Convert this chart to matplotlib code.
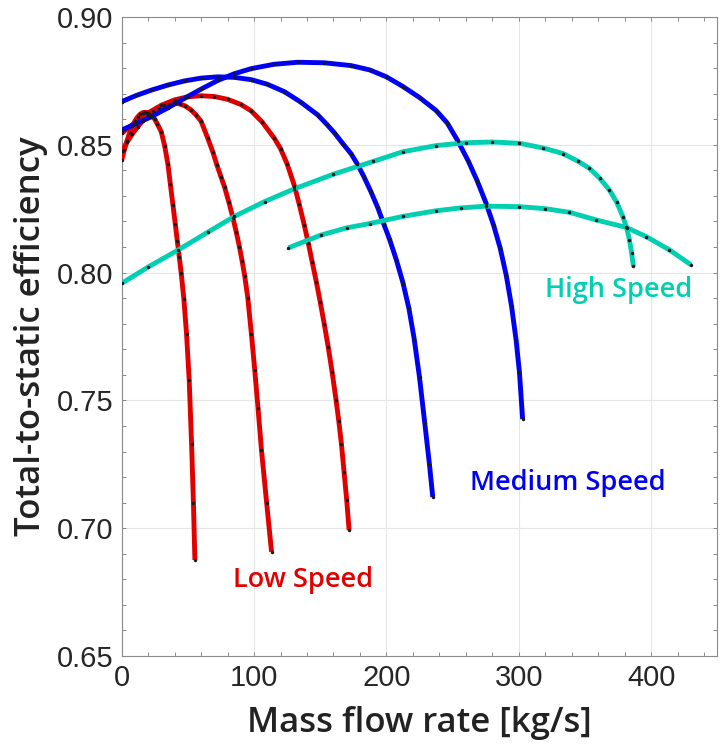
import numpy as np
import matplotlib
matplotlib.use("Agg")
import matplotlib.pyplot as plt
from matplotlib.ticker import MultipleLocator, FormatStrFormatter

# low speed (red) lines
low1_x = [0, 2, 4, 6, 8, 10, 12, 14, 16, 17.4, 19, 21, 23, 25, 27, 29.9, 32.5, 34.9, 36.8, 38.7, 40.5, 42,
          43.5, 45, 47, 49, 51, 52.8, 54.2, 55.3]
low1_y = [0.844, 0.848, 0.8516, 0.8546, 0.8572, 0.8593, 0.8609, 0.862, 0.8626, 0.8627, 0.8626, 0.8621,
          0.8612, 0.86, 0.8581, 0.8551, 0.8495, 0.8425, 0.8345, 0.8265, 0.819, 0.8125, 0.8062, 0.7997,
          0.7895, 0.776, 0.758, 0.733, 0.71, 0.6876]
low2_x = [0, 4, 8, 12, 16, 20, 24, 28, 32, 36, 40, 44, 48, 52, 56, 60, 65.1, 69, 72, 75, 77.7, 81, 84, 86.5,
          89, 91, 93, 95.3, 98, 100.5, 103, 105.6, 109.5, 113.2]
low2_y = [0.8475, 0.851, 0.8542, 0.857, 0.8595, 0.8615, 0.8632, 0.8645, 0.8655, 0.8661, 0.8662, 0.866,
          0.8652, 0.8638, 0.8618, 0.8592, 0.8525, 0.847, 0.842, 0.8375, 0.8335, 0.8275, 0.8215, 0.816, 0.81,
          0.8045, 0.7985, 0.79, 0.776, 0.762, 0.747, 0.7306, 0.71, 0.6908]
low3_x = [0, 10, 20, 30, 40, 50, 60, 70, 80, 90, 97.8, 106, 115.4, 120, 125, 130.5, 134, 138, 141, 144, 147,
          150, 153, 156, 159, 162, 164, 166, 168, 170, 171.8]
low3_y = [0.8545, 0.8587, 0.8625, 0.8655, 0.8676, 0.8688, 0.8692, 0.8689, 0.8678, 0.8658, 0.8633, 0.859,
          0.8525, 0.8485, 0.8425, 0.834, 0.827, 0.8185, 0.8115, 0.804, 0.7965, 0.7885, 0.78, 0.771, 0.761,
          0.75, 0.742, 0.733, 0.722, 0.711, 0.6993]

# medium speed (blue) lines
med1_x = [0, 11, 22.4, 35, 47.5, 60, 72.7, 85, 97.8, 110, 122.9, 135, 148.1, 155, 161, 167, 173.3, 178, 183,
          188, 193.4, 198, 202.4, 207.5, 212.5, 217, 221, 225, 229, 232.5, 235]
med1_y = [0.8669, 0.8693, 0.8714, 0.8734, 0.875, 0.8761, 0.8766, 0.8764, 0.8755, 0.8737, 0.8708, 0.8668,
          0.8617, 0.858, 0.8545, 0.8505, 0.8465, 0.8425, 0.8375, 0.832, 0.8255, 0.819, 0.813, 0.805, 0.796,
          0.786, 0.774, 0.759, 0.741, 0.725, 0.7122]
med2_x = [0, 11, 22.4, 35, 47.5, 60, 72.7, 85, 97.8, 115, 133, 153, 173.3, 187.4, 200, 212.5, 225, 237.6, 246,
          254, 262, 268.5, 275.4, 281, 286, 290.5, 294.5, 298, 300.5, 302.9]
med2_y = [0.8558, 0.8583, 0.861, 0.8645, 0.8682, 0.8718, 0.8752, 0.8778, 0.8798, 0.8815, 0.8823, 0.8821,
          0.881, 0.8793, 0.8766, 0.8728, 0.8685, 0.8634, 0.8585, 0.8515, 0.8435, 0.836, 0.827, 0.8185,
          0.8095, 0.799, 0.787, 0.7735, 0.761, 0.7427]

# high speed (teal) lines
high1_x = [0, 20, 42.5, 65, 85.2, 108, 130.5, 160, 190, 212.5, 237.6, 260, 280, 300.5, 318, 333.3, 345,
           353.4, 361, 368.5, 374, 378.6, 381.5, 383.6, 385.3, 386.6]
high1_y = [0.7958, 0.8022, 0.8088, 0.8158, 0.822, 0.8278, 0.8328, 0.8385, 0.8435, 0.8473, 0.8497, 0.8508,
           0.8511, 0.8506, 0.8488, 0.8466, 0.8435, 0.8408, 0.837, 0.8323, 0.8275, 0.8219, 0.8175, 0.8128,
           0.8075, 0.8024]
high2_x = [126, 150.6, 170, 187.4, 212.5, 237.6, 256, 275.3, 300.5, 320, 338.3, 358.5, 381.1, 396.2, 413.8,
           430.2]
high2_y = [0.8097, 0.8147, 0.8175, 0.8192, 0.822, 0.8242, 0.8253, 0.826, 0.8258, 0.825, 0.8236, 0.8206,
           0.8177, 0.8141, 0.8089, 0.803]

red = '#E00000'
blue = '#0000F5'
teal = '#00CFB2'

fig = plt.figure(figsize=(7.2, 7.53), dpi=100)
ax = fig.add_axes([0.169, 0.1288, 0.8273, 0.8486])

lines = [(low1_x, low1_y, red), (low2_x, low2_y, red), (low3_x, low3_y, red),
         (med1_x, med1_y, blue), (med2_x, med2_y, blue),
         (high1_x, high1_y, teal), (high2_x, high2_y, teal)]
for xs, ys, c in lines:
    ax.plot(xs, ys, color=c, lw=3.5, solid_joinstyle='round', solid_capstyle='butt', zorder=3)
    ax.plot(xs, ys, 'o', color='#1a1a1a', ms=2.5, mew=0, zorder=4)

ax.set_xlim(0, 450)
ax.set_ylim(0.65, 0.90)
ax.xaxis.set_major_locator(MultipleLocator(100))
ax.xaxis.set_minor_locator(MultipleLocator(20))
ax.yaxis.set_major_locator(MultipleLocator(0.05))
ax.yaxis.set_minor_locator(MultipleLocator(0.01))
ax.yaxis.set_major_formatter(FormatStrFormatter('%.2f'))
ax.grid(True, which='major', color='#e6e6e6', lw=0.8, zorder=0)
ax.set_axisbelow(True)

for s in ax.spines.values():
    s.set_color('#8a8a8a')
    s.set_linewidth(0.8)
ax.tick_params(which='both', direction='in', top=True, right=True, color='#8a8a8a', width=0.7)
ax.tick_params(which='major', length=3, labelsize=21, labelcolor='#262626', pad=6)
ax.tick_params(which='minor', length=3)
for lab in ax.get_xticklabels() + ax.get_yticklabels():
    lab.set_family('Liberation Sans')

lab_font = dict(family='Open Sans', weight='semibold', fontsize=25, color='#222222')
ax.set_xlabel('Mass flow rate [kg/s]', labelpad=10, **lab_font)
ax.set_ylabel('Total-to-static efficiency', labelpad=6, **lab_font)

txt_font = dict(family='Open Sans', weight='semibold', fontsize=19.5)
ax.text(84, 0.677, 'Low Speed', color=red, **txt_font)
ax.text(263, 0.715, 'Medium Speed', color=blue, **txt_font)
ax.text(319.6, 0.7905, 'High Speed', color=teal, **txt_font)

fig.savefig('out.png', dpi=100)
